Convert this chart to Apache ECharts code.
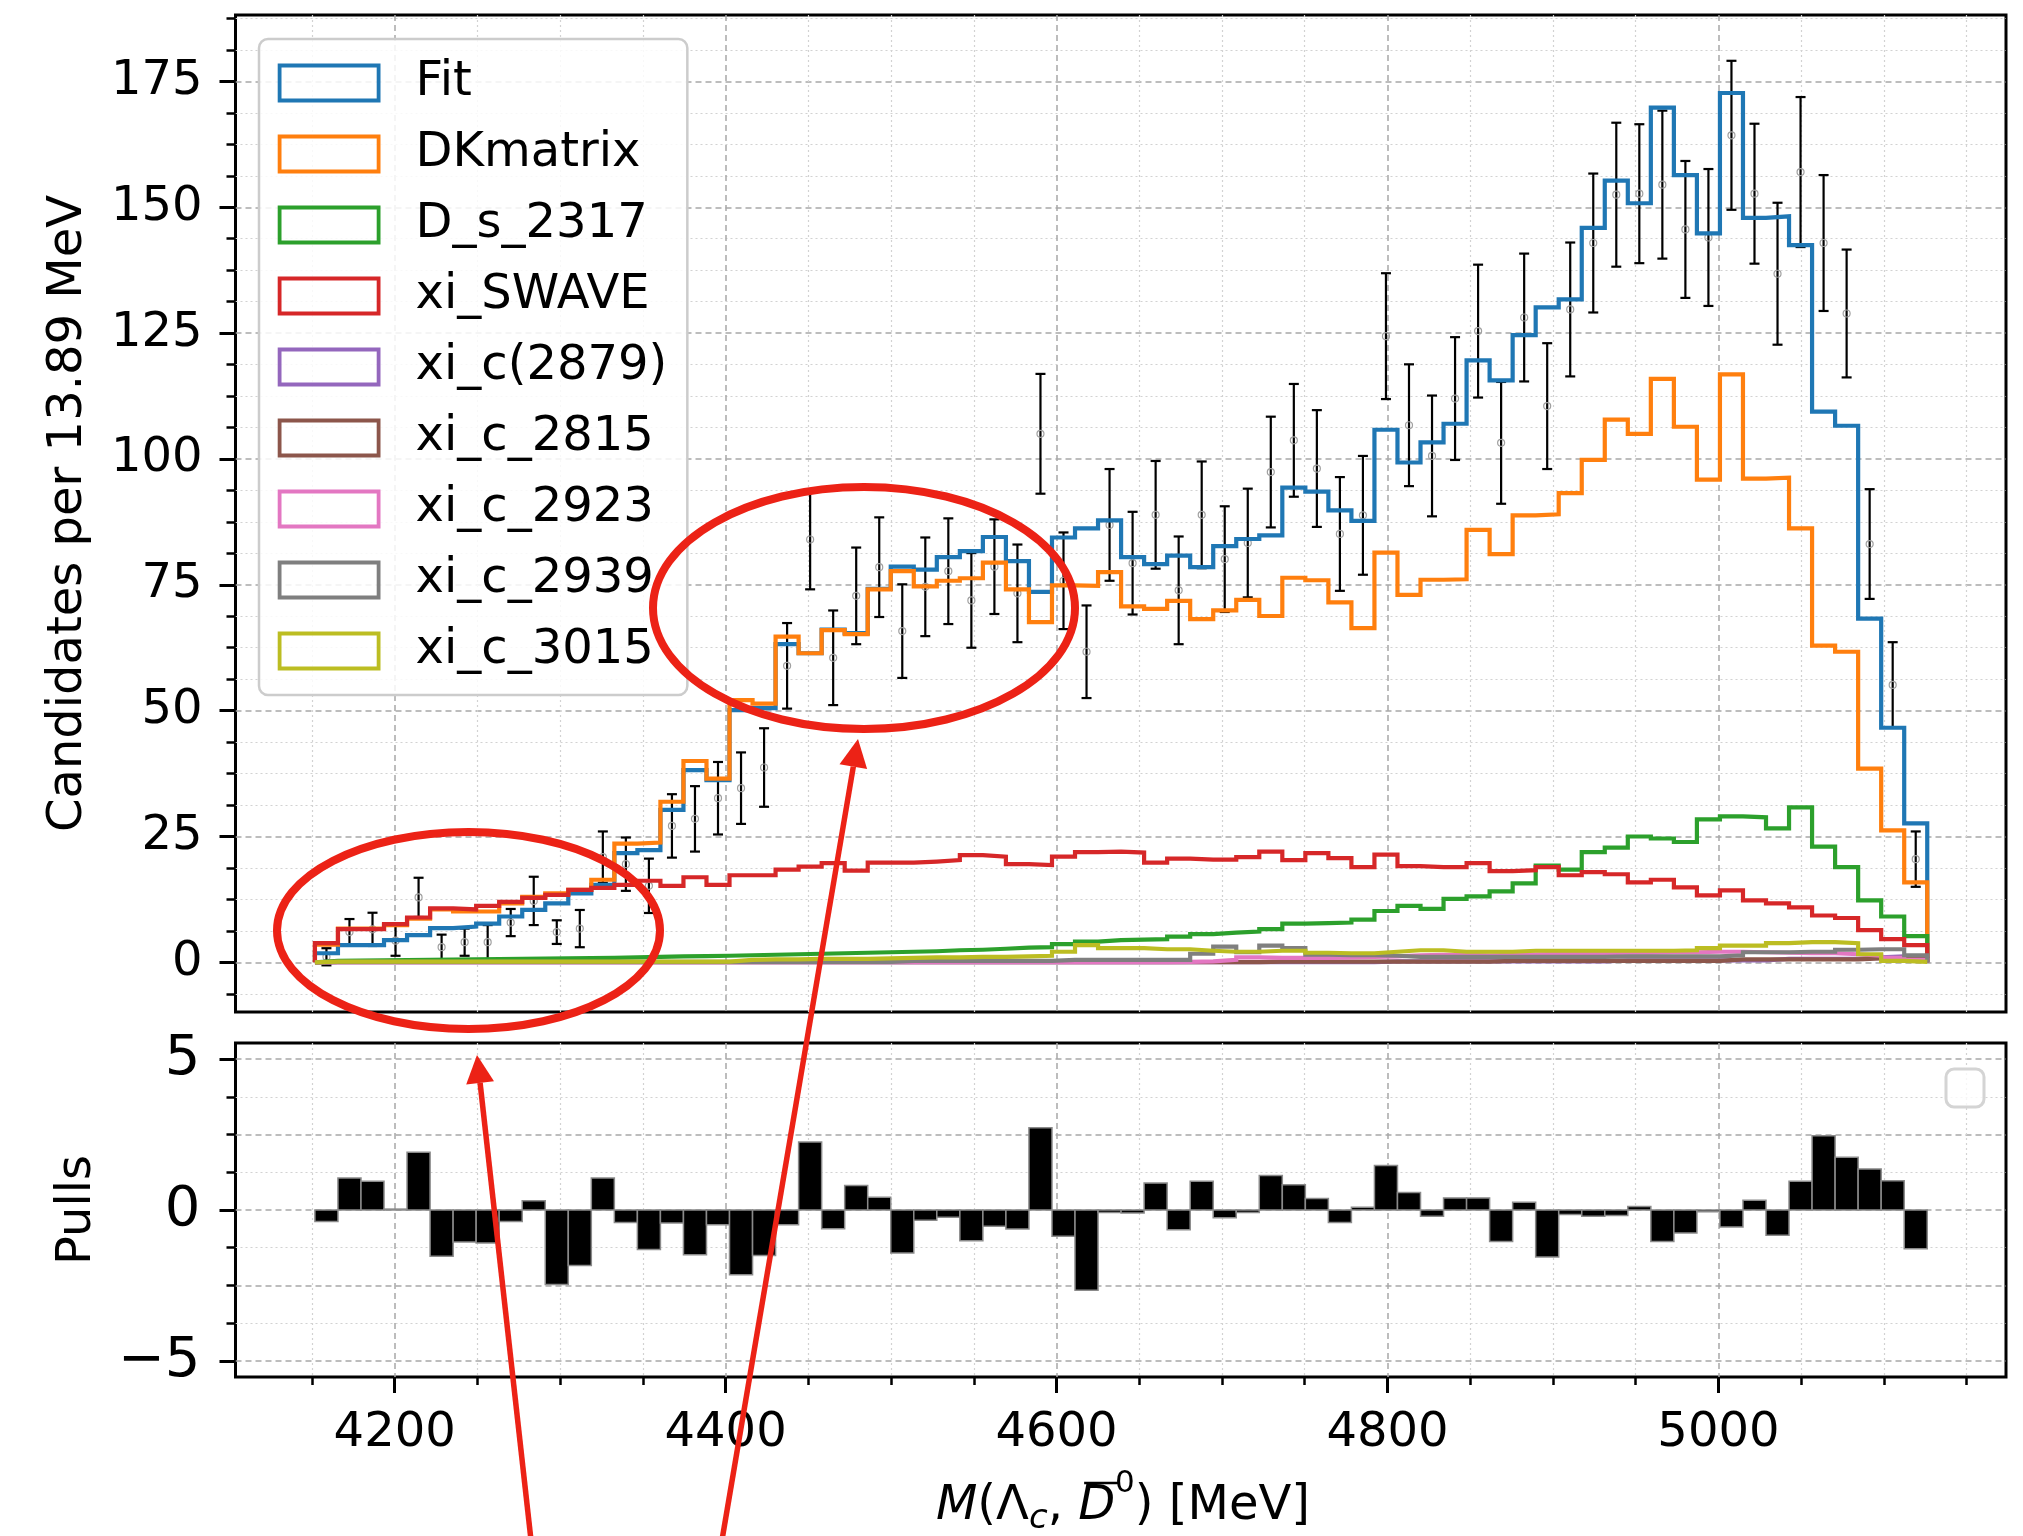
<!DOCTYPE html>
<html>
<head>
<meta charset="utf-8">
<script src="https://cdn.jsdelivr.net/npm/echarts@6/dist/echarts.min.js"></script>
<style>
  html, body { margin: 0; padding: 0; background: #fff; }
  #chart { width: 2023px; height: 1536px; }
</style>
</head>
<body>
<div id="chart"></div>
<script>
// Binning of M(Lambda_c, D0bar): 70 bins starting at threshold
const binStart = 4151.8;
const binWidth = 13.92;

// Fit components (candidates per bin)
const fitValues = [1.8,3.4,3.4,4.4,5.4,6.8,7.1,7.7,9.1,10.4,11.7,13.7,15.4,21.7,22.3,30.3,38.2,36.2,50.1,50.5,
  63.2,61.4,66.1,65.4,74.2,78.6,78.0,80.5,81.7,84.5,79.7,73.6,84.4,86.2,87.8,80.5,79.1,80.8,78.5,82.7,
  84.1,84.8,94.3,93.5,89.8,87.7,105.8,99.3,103.3,107.0,119.6,115.6,124.6,130.1,131.7,145.9,155.3,150.8,169.8,156.4,
  144.8,172.7,147.9,148.2,142.5,109.4,106.6,68.3,46.6,27.6];
const dkMatrixValues = [3.5,6.7,6.7,7.4,8.7,10.5,10.1,10.1,11.7,13.0,13.7,14.4,16.4,23.6,23.8,31.9,40.0,36.5,52.1,51.4,
  64.7,61.4,66.0,65.2,74.1,77.7,74.7,75.8,76.3,79.4,74.1,67.6,74.9,74.8,77.5,70.7,70.2,71.8,68.2,69.9,
  72.0,68.8,76.4,75.9,71.5,66.4,81.4,73.0,76.0,76.1,85.9,81.1,88.8,89.0,93.2,99.8,107.8,105.0,115.9,106.4,
  95.9,116.8,96.1,96.3,86.2,62.9,61.7,38.5,26.2,15.9];
const ds2317Values = [0.3,0.35,0.4,0.45,0.5,0.55,0.6,0.65,0.7,0.75,0.8,0.85,0.9,1.0,1.1,1.2,1.25,1.3,1.4,1.5,
  1.6,1.7,1.8,1.9,2.0,2.1,2.2,2.4,2.5,2.7,2.9,3.0,3.6,4.1,4.4,4.5,4.6,5.1,5.6,5.9,
  6.1,6.6,7.7,7.8,7.9,8.5,10.2,11.2,10.6,12.6,13.1,14.1,15.7,19.2,18.4,21.9,22.8,25.0,24.6,23.9,
  28.4,29.0,28.8,26.6,30.8,23.0,18.9,12.3,9.1,5.2];
const xiSwaveValues = [3.8,6.6,6.6,7.6,8.9,10.7,10.5,11.2,12.0,12.8,13.4,14.4,14.8,15.4,16.2,15.2,16.9,15.4,17.3,17.3,
  18.4,19.0,19.7,18.2,19.8,19.8,20.0,20.3,21.3,21.0,19.5,19.3,21.0,21.9,22.0,21.8,19.8,20.6,20.4,20.4,
  20.9,22.0,20.3,21.7,20.7,18.9,21.4,19.1,18.9,18.9,19.7,18.1,18.3,18.9,17.3,17.9,17.5,15.9,16.4,14.9,
  13.3,14.3,12.3,11.7,10.9,9.3,8.8,6.4,4.6,3.4];
const xic2879Values = [0.05,0.05,0.05,0.05,0.05,0.05,0.05,0.05,0.05,0.05,0.05,0.05,0.05,0.05,0.05,0.05,0.05,0.05,0.05,0.05,
  0.05,0.05,0.05,0.05,0.05,0.05,0.05,0.05,0.05,0.05,0.05,0.05,0.05,0.05,0.05,0.05,0.05,0.05,0.05,0.05,
  0.05,0.05,0.05,0.05,0.05,0.05,0.2,0.2,0.2,0.2,0.2,0.2,0.2,0.2,0.2,0.2,0.4,0.4,0.4,0.4,
  0.4,0.4,0.4,0.7,0.7,0.7,0.7,1.0,1.2,1.0];
const xic2815Values = [0.02,0.02,0.02,0.02,0.02,0.02,0.02,0.02,0.02,0.02,0.02,0.02,0.02,0.02,0.02,0.02,0.02,0.02,0.02,0.02,
  0.02,0.02,0.02,0.02,0.02,0.02,0.02,0.02,0.02,0.02,0.02,0.02,0.02,0.02,0.02,0.02,0.02,0.02,0.02,0.02,
  0.02,0.15,0.15,0.15,0.15,0.15,0.15,0.15,0.15,0.15,0.15,0.3,0.3,0.3,0.3,0.3,0.3,0.3,0.3,0.3,
  0.3,0.6,0.6,0.6,0.6,0.6,0.6,0.8,0.9,0.7];
const xic2923Values = [0.05,0.05,0.05,0.05,0.05,0.05,0.05,0.05,0.05,0.05,0.05,0.05,0.05,0.05,0.05,0.05,0.05,0.05,0.05,0.05,
  0.05,0.05,0.05,0.05,0.05,0.05,0.05,0.05,0.05,0.05,0.05,0.05,0.05,0.05,0.05,0.05,0.05,0.1,0.2,0.5,
  1.0,0.9,0.9,0.9,1.0,1.1,1.2,1.4,1.5,1.5,1.4,1.5,1.6,1.7,1.8,1.8,1.9,1.9,2.0,2.0,
  2.1,2.1,2.0,1.9,1.8,1.8,1.6,1.3,0.9,0.5];
const xic2939Values = [0.1,0.1,0.1,0.1,0.1,0.1,0.1,0.1,0.1,0.1,0.1,0.1,0.1,0.1,0.1,0.1,0.1,0.1,0.1,0.1,
  0.1,0.1,0.1,0.1,0.1,0.3,0.3,0.3,0.3,0.3,0.3,0.3,0.5,0.5,0.5,0.5,0.5,0.5,1.7,3.1,
  2.0,3.3,2.8,1.5,1.4,1.4,1.3,1.1,1.1,1.1,1.1,1.1,1.1,1.1,1.1,1.1,1.2,1.2,1.2,1.2,
  1.2,1.4,2.0,2.0,2.1,2.1,2.5,2.6,2.6,1.4];
const xic3015Values = [0.15,0.15,0.15,0.15,0.15,0.15,0.15,0.15,0.15,0.15,0.15,0.15,0.15,0.15,0.15,0.15,0.15,0.15,0.5,0.6,
  0.6,0.7,0.7,0.7,0.8,0.9,1.0,1.0,1.1,1.1,1.2,1.3,2.1,3.4,2.8,2.8,2.6,2.6,2.3,2.1,
  2.1,2.3,2.3,1.9,1.8,1.8,2.1,2.4,2.4,2.1,2.1,2.1,2.3,2.3,2.3,2.3,2.3,2.3,2.3,2.4,
  2.8,3.3,3.3,3.8,4.0,4.0,3.8,1.6,0.3,0.1];

// Measured candidates and their uncertainties
const dataValues = [1.1,6.0,6.55,4.3,12.9,3.0,4.0,4.0,7.9,12.2,6.0,6.7,20.9,19.5,15.2,27.1,28.5,32.6,34.6,38.7,
  58.9,84.0,60.5,72.8,78.5,65.8,74.6,77.7,71.9,78.6,73.3,105.0,75.8,61.7,86.9,79.3,88.9,73.9,88.9,80.1,
  83.3,97.4,103.7,98.1,85.1,88.8,124.4,106.7,100.6,112.0,125.4,103.2,128.1,110.5,129.7,142.9,152.5,152.7,154.5,145.6,
  144.0,164.3,152.7,136.8,157.0,142.9,128.9,83.1,55.1,20.5];
const dataErrors = [1.7,2.6,3.3,3.0,3.9,2.5,2.7,3.4,2.7,4.8,2.35,3.7,5.1,5.3,5.4,6.3,6.5,7.2,7.1,7.8,
  8.5,9.9,9.4,9.6,9.9,9.3,9.8,10.5,9.4,9.4,9.7,11.9,9.6,9.2,11.1,10.2,10.7,10.7,10.6,10.5,
  10.8,11.0,11.2,11.6,11.3,11.8,12.5,12.1,12.0,12.2,13.2,12.1,12.7,12.5,13.3,13.8,14.3,13.8,14.7,13.6,
  13.6,14.8,13.9,14.1,14.9,13.5,12.7,10.9,8.5,5.5];

// Pulls per bin
const pullValues = [-0.38,1.06,0.95,0.03,1.91,-1.53,-1.06,-1.09,-0.38,0.31,-2.47,-1.84,1.06,-0.41,-1.31,-0.43,-1.48,-0.49,-2.14,-1.51,
  -0.49,2.25,-0.62,0.81,0.42,-1.42,-0.34,-0.24,-1.02,-0.54,-0.63,2.72,-0.87,-2.66,-0.08,-0.10,0.89,-0.65,0.95,-0.26,
  -0.08,1.14,0.84,0.38,-0.41,0.09,1.47,0.58,-0.21,0.40,0.40,-1.04,0.26,-1.56,-0.15,-0.21,-0.18,0.12,-1.04,-0.76,
  -0.06,-0.56,0.32,-0.84,0.95,2.46,1.75,1.36,0.97,-1.28];

// Axis ticks
const xMajorTicks = [4200, 4400, 4600, 4800, 5000];
const xMinorTicks = [4150, 4250, 4300, 4350, 4450, 4500, 4550, 4650, 4700, 4750, 4850, 4900, 4950, 5050, 5100, 5150];
const yMajorTicks = [0, 25, 50, 75, 100, 125, 150, 175];
const yMinorTicks = [-6.25, 6.25, 12.5, 18.75, 31.25, 37.5, 43.75, 56.25, 62.5, 68.75, 81.25, 87.5, 93.75,
  106.25, 112.5, 118.75, 131.25, 137.5, 143.75, 156.25, 162.5, 168.75, 181.25, 187.5];
const pullMajorTicks = [-5, 0, 5];
const pullMidTicks = [-2.5, 2.5];
const pullMinorTicks = [-3.75, -1.25, 1.25, 3.75];

const components = [
  { name: 'Fit',        color: '#1f77b4', values: fitValues },
  { name: 'DKmatrix',   color: '#ff7f0e', values: dkMatrixValues },
  { name: 'D_s_2317',   color: '#2ca02c', values: ds2317Values },
  { name: 'xi_SWAVE',   color: '#d62728', values: xiSwaveValues },
  { name: 'xi_c(2879)', color: '#9467bd', values: xic2879Values },
  { name: 'xi_c_2815',  color: '#8c564b', values: xic2815Values },
  { name: 'xi_c_2923',  color: '#e377c2', values: xic2923Values },
  { name: 'xi_c_2939',  color: '#7f7f7f', values: xic2939Values },
  { name: 'xi_c_3015',  color: '#bcbd22', values: xic3015Values }
];

const FONT = 'DejaVu Sans';
const X_MIN = 4103.8, X_MAX = 5173.8;
const Y_MIN = -9.87, Y_MAX = 188.2;
const P_MIN = -5.53, P_MAX = 5.53;

// Step outline of a histogram, as matplotlib's histtype='step'
function stepPoints(vals) {
  const pts = [[binStart, 0]];
  vals.forEach((v, i) => {
    const lo = binStart + i * binWidth;
    pts.push([lo, v], [lo + binWidth, v]);
  });
  pts.push([binStart + vals.length * binWidth, 0]);
  return pts;
}

const majorGrid = { show: true, lineStyle: { color: '#a8a8a8', width: 1.5, type: [6, 4] } };
const minorGrid = { show: true, lineStyle: { color: '#d2d2d2', width: 1.2, type: [2, 3] } };
const tickStyle = (len, w) => ({ show: true, inside: false, length: len, lineStyle: { color: '#000', width: w } });
const noLine = { show: false, onZero: false };

function xAxisDef(gridIndex, ticks, opts) {
  return Object.assign({
    type: 'value', gridIndex, position: 'bottom', min: X_MIN, max: X_MAX,
    axisLine: noLine,
    axisTick: Object.assign({ customValues: ticks }, opts.tick || { show: false }),
    axisLabel: opts.label ? Object.assign({ customValues: ticks }, opts.label) : { show: false },
    splitLine: opts.split
  }, opts.extra || {});
}
function yAxisDef(gridIndex, min, max, ticks, opts) {
  return Object.assign({
    type: 'value', gridIndex, position: 'left', min, max,
    axisLine: noLine,
    axisTick: Object.assign({ customValues: ticks }, opts.tick || { show: false }),
    axisLabel: opts.label ? Object.assign({ customValues: ticks }, opts.label) : { show: false },
    splitLine: opts.split
  }, opts.extra || {});
}

const xAxes = [
  xAxisDef(0, xMajorTicks, { split: majorGrid }),
  xAxisDef(0, xMinorTicks, { split: minorGrid }),
  xAxisDef(1, xMajorTicks, {
    split: majorGrid, tick: tickStyle(16, 3),
    label: { show: true, fontSize: 48, fontFamily: FONT, color: '#000', margin: 33, formatter: v => String(v) }
  }),
  xAxisDef(1, xMinorTicks, { split: minorGrid, tick: tickStyle(8, 2.5) })
];

const yAxes = [
  yAxisDef(0, Y_MIN, Y_MAX, yMajorTicks, {
    split: majorGrid, tick: tickStyle(16, 3),
    label: { show: true, fontSize: 48, fontFamily: FONT, color: '#000', margin: 33, formatter: v => String(v) },
    extra: {
      name: 'Candidates per 13.89 MeV', nameLocation: 'middle', nameGap: 143,
      nameTextStyle: { fontSize: 48, fontFamily: FONT, color: '#000' }
    }
  }),
  yAxisDef(0, Y_MIN, Y_MAX, yMinorTicks, { split: minorGrid, tick: tickStyle(9, 2.5) }),
  yAxisDef(1, P_MIN, P_MAX, pullMajorTicks, {
    split: majorGrid, tick: tickStyle(16, 3),
    label: {
      show: true, fontSize: 56, fontFamily: FONT, color: '#000', margin: 35,
      formatter: v => String(v).replace('-', '\u2212')
    },
    extra: {
      name: 'Pulls', nameLocation: 'middle', nameGap: 134,
      nameTextStyle: { fontSize: 48, fontFamily: FONT, color: '#000' }
    }
  }),
  yAxisDef(1, P_MIN, P_MAX, pullMidTicks, { split: majorGrid, tick: tickStyle(9, 2.5) }),
  yAxisDef(1, P_MIN, P_MAX, pullMinorTicks, { split: minorGrid, tick: tickStyle(9, 2.5) })
];

const series = components.map(c => ({
  type: 'line', name: c.name, xAxisIndex: 0, yAxisIndex: 0,
  data: stepPoints(c.values),
  showSymbol: false, symbol: 'none', silent: true,
  lineStyle: { color: c.color, width: 4.2, join: 'miter' },
  itemStyle: { color: c.color },
  emphasis: { disabled: true }
}));

// Measured points with error bars
series.push({
  type: 'custom', name: 'data', xAxisIndex: 0, yAxisIndex: 0, silent: true,
  data: dataValues.map((v, i) => [binStart + (i + 0.5) * binWidth, v, dataErrors[i]]),
  encode: { x: 0, y: 1 },
  renderItem(params, api) {
    const c = api.value(0), v = api.value(1), e = api.value(2);
    const t = api.coord([c, v + e]), b = api.coord([c, v - e]), m = api.coord([c, v]);
    const cw = 5;
    const st = { stroke: '#000', lineWidth: 2.2 };
    return {
      type: 'group', children: [
        { type: 'line', shape: { x1: t[0], y1: t[1], x2: b[0], y2: b[1] }, style: st },
        { type: 'line', shape: { x1: t[0] - cw, y1: t[1], x2: t[0] + cw, y2: t[1] }, style: st },
        { type: 'line', shape: { x1: b[0] - cw, y1: b[1], x2: b[0] + cw, y2: b[1] }, style: st },
        { type: 'circle', shape: { cx: m[0], cy: m[1], r: 3.5 }, style: { fill: 'rgba(0,0,0,0)', stroke: '#a0a0a0', lineWidth: 1.2 } }
      ]
    };
  }
});

// Pull bars
series.push({
  type: 'custom', name: 'pulls', xAxisIndex: 2, yAxisIndex: 2, silent: true,
  data: pullValues.map((p, i) => [binStart + i * binWidth, binStart + (i + 1) * binWidth, p]),
  encode: { x: [0, 1], y: 2 },
  renderItem(params, api) {
    const a = api.coord([api.value(0), 0]);
    const b = api.coord([api.value(1), api.value(2)]);
    return {
      type: 'rect',
      shape: { x: a[0], y: Math.min(a[1], b[1]), width: b[0] - a[0], height: Math.abs(b[1] - a[1]) },
      style: { fill: '#000', stroke: '#8a8a8a', lineWidth: 1.5 }
    };
  }
});

// x-axis title built from pieces (italic M, subscript c, overlined D with superscript 0)
const measureCtx = document.createElement('canvas').getContext('2d');
function textWidth(t, size, style) {
  measureCtx.font = (style === 'italic' ? 'italic ' : '') + size + 'px "' + FONT + '"';
  return measureCtx.measureText(t).width;
}
const titlePieces = [
  { text: 'M', size: 48, style: 'italic', rise: 0 },
  { text: '(\u039B', size: 48, style: 'normal', rise: 0 },
  { text: 'c', size: 34, style: 'italic', rise: -8 },
  { text: ', ', size: 48, style: 'normal', rise: 0 },
  { text: 'D', size: 48, style: 'italic', rise: 0, over: true },
  { text: '0', size: 31, style: 'normal', rise: 28 },
  { text: ') [MeV]', size: 48, style: 'normal', rise: 0 }
];
const titleCenterX = 1123, titleBaseline = 1523;
const titleWidth = titlePieces.reduce((s, p) => s + textWidth(p.text, p.size, p.style), 0);
let tx = titleCenterX - titleWidth / 2;
const titleGraphics = [];
titlePieces.forEach(p => {
  const w = textWidth(p.text, p.size, p.style);
  titleGraphics.push({
    type: 'text', x: tx, y: titleBaseline - p.rise - 0.35 * p.size, z: 50,
    style: { text: p.text, fontSize: p.size, fontFamily: FONT, fontStyle: p.style, fill: '#000', align: 'left', verticalAlign: 'middle' }
  });
  if (p.over) {
    titleGraphics.push({
      type: 'line', z: 50,
      shape: { x1: tx + 6, y1: titleBaseline - 40, x2: tx + w + 4, y2: titleBaseline - 40 },
      style: { stroke: '#000', lineWidth: 2.5 }
    });
  }
  tx += w;
});

// Red annotation: ellipses and arrows
const RED = '#ec2216';
function arrow(tail, tip, headLen, headHalf) {
  const dx = tip[0] - tail[0], dy = tip[1] - tail[1];
  const L = Math.hypot(dx, dy), ux = dx / L, uy = dy / L, nx = -uy, ny = ux;
  const bx = tip[0] - headLen * ux, by = tip[1] - headLen * uy;
  return [
    { type: 'line', z: 100, shape: { x1: tail[0], y1: tail[1], x2: bx, y2: by }, style: { stroke: RED, lineWidth: 5.5 } },
    { type: 'polygon', z: 100, shape: { points: [tip, [bx + headHalf * nx, by + headHalf * ny], [bx - headHalf * nx, by - headHalf * ny]] }, style: { fill: RED } }
  ];
}
const annotations = [
  { type: 'ellipse', z: 100, shape: { cx: 468.5, cy: 930.5, rx: 191.5, ry: 98.5 }, style: { fill: 'none', stroke: RED, lineWidth: 8 } },
  { type: 'ellipse', z: 100, shape: { cx: 864, cy: 608, rx: 211, ry: 121 }, style: { fill: 'none', stroke: RED, lineWidth: 8 } },
  ...arrow([531, 1540], [477, 1055], 28, 14),
  ...arrow([722, 1540], [858, 739], 28, 14)
];

// Empty legend frame of the pulls panel
const emptyLegend = {
  type: 'rect', z: 40, shape: { x: 1946, y: 1069, width: 38, height: 38, r: 8 },
  style: { fill: 'rgba(255,255,255,0.8)', stroke: '#d4d4d4', lineWidth: 3 }
};

const option = {
  animation: false,
  backgroundColor: '#fff',
  textStyle: { fontFamily: FONT },
  grid: [
    { left: 235.5, top: 15, width: 1770.5, height: 997, show: true, borderColor: '#000', borderWidth: 3, backgroundColor: '#fff', outerBoundsMode: 'none', containLabel: false },
    { left: 235.5, top: 1043, width: 1770.5, height: 334, show: true, borderColor: '#000', borderWidth: 3, backgroundColor: '#fff', outerBoundsMode: 'none', containLabel: false }
  ],
  legend: {
    orient: 'vertical', left: 259, top: 39,
    padding: [20, 20, 20, 18.7],
    itemWidth: 99, itemHeight: 35, itemGap: 23,
    backgroundColor: 'rgba(255,255,255,0.85)', borderColor: '#cccccc', borderWidth: 2.5, borderRadius: 9,
    selectedMode: false,
    textStyle: { fontFamily: FONT, fontSize: 48, color: '#000', lineHeight: 48, padding: [0, 0, 0, 32] },
    data: components.map(c => ({
      name: c.name, icon: 'rect',
      itemStyle: { color: 'rgba(255,255,255,0)', borderColor: c.color, borderWidth: 3.8 }
    }))
  },
  xAxis: xAxes,
  yAxis: yAxes,
  series,
  graphic: [...titleGraphics, ...annotations, emptyLegend]
};

const chart = echarts.init(document.getElementById('chart'), null, { renderer: 'canvas', width: 2023, height: 1536 });
chart.setOption(option);
</script>
</body>
</html>
